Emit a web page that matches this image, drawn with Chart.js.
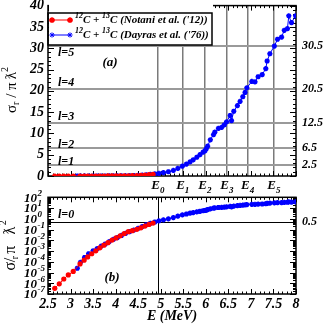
<!DOCTYPE html>
<html>
<head>
<meta charset="utf-8">
<script src="https://cdn.jsdelivr.net/npm/chart.js@4.4.0/dist/chart.umd.min.js"></script>
<style>
    body { margin: 0; background: #fff; width: 323px; height: 325px; overflow: hidden; position: relative; }
    canvas { position: absolute; left: 0; }
    #topChart { top: 0; }
    #botChart { top: 185px; }
</style>
</head>
<body>
<canvas id="topChart" width="323" height="200" style="width:323px;height:200px"></canvas>
<canvas id="botChart" width="323" height="140" style="width:323px;height:140px"></canvas>
<script>
const FONT = "'Liberation Serif', 'Times New Roman', serif";

// 12C + 13C, Notani et al. ('12)  -- energy (MeV) and sigma_r / pi lambda^2
const notaniE = [2.65, 2.75, 2.85, 2.95, 3.06, 3.21, 3.30, 3.38, 3.47, 3.56, 3.65, 3.74,
                 3.83, 3.92, 4.01, 4.10, 4.19, 4.28, 4.37, 4.47, 4.56, 4.65, 4.74, 4.83];
const notaniSigma = [3.4e-7, 8.9e-7, 2.5e-6, 5.9e-6, 1.26e-5, 6.3e-5, 1.4e-4, 2.8e-4, 5.6e-4, 1.05e-3, 2.0e-3, 3.5e-3,
                     6.0e-3, 0.0105, 0.0166, 0.026, 0.042, 0.063, 0.079, 0.105, 0.145, 0.21, 0.30, 0.40];

// 12C + 13C, Dayras et al. ('76)
const dayrasE = [3.15, 3.22, 3.31, 3.40, 3.50, 3.59, 3.68, 3.77, 3.86, 3.95, 4.04, 4.13,
                 4.22, 4.31, 4.40, 4.50, 4.59, 4.68, 4.77, 4.87, 4.96, 5.06, 5.17, 5.28,
                 5.38, 5.48, 5.57, 5.65, 5.72, 5.80, 5.87, 5.94, 5.98, 6.01, 6.04, 6.10,
                 6.17, 6.20, 6.28, 6.35, 6.41, 6.46, 6.54, 6.57, 6.62, 6.70, 6.76, 6.82,
                 6.87, 6.91, 7.02, 7.09, 7.16, 7.25, 7.33, 7.36, 7.42, 7.52, 7.59, 7.68,
                 7.74, 7.81, 7.84, 7.90, 7.99];
const dayrasSigma = [2.5e-5, 8.9e-5, 2.5e-4, 5.6e-4, 1.05e-3, 1.66e-3, 2.8e-3, 4.5e-3, 7.6e-3, 0.012, 0.0178, 0.028,
                     0.044, 0.063, 0.087, 0.13, 0.19, 0.28, 0.38, 0.50, 0.63, 0.80, 1.0, 1.3,
                     1.8, 2.3, 2.8, 3.3, 3.8, 4.4, 5.0, 5.6, 5.9, 6.4, 7.0, 8.5,
                     9.7, 10.3, 11.2, 11.4, 12.0, 12.7, 14.2, 13.0, 15.2, 16.5, 17.5, 18.6,
                     19.6, 20.7, 22.2, 22.1, 23.3, 23.8, 25.2, 27.0, 28.7, 30.5, 32.1, 32.6,
                     34.2, 34.6, 37.6, 36.0, 37.6];

// barrier energies E0..E5 and the l-wave limits
const levelE = [4.94, 5.49, 5.98, 6.47, 6.93, 7.51];
const levelIdx = ['0', '1', '2', '3', '4', '5'];
const lLines = [2.5, 6.5, 12.5, 20.5, 30.5];
const lNames = ['l=1', 'l=2', 'l=3', 'l=4', 'l=5'];
const lNamePos = [3.3, 7.4, 13.8, 21.9, 29.0];
const l0Line = 0.5;
const decades = [-7, -6, -5, -4, -3, -2, -1, 0, 1, 2];

const pts = (xs, ys) => xs.map((x, i) => ({x: x, y: ys[i]}));

function makeSets() {
    return [
        {
            label: "Notani", data: pts(notaniE, notaniSigma), showLine: true,
            borderColor: '#ff0000', backgroundColor: '#ff0000', borderWidth: 1,
            pointStyle: 'circle', pointRadius: 2.6, pointBorderWidth: 0
        },
        {
            label: "Dayras", data: pts(dayrasE, dayrasSigma), showLine: true,
            borderColor: '#0000ff', backgroundColor: '#0000ff', borderWidth: 1,
            pointStyle: 'star', pointRadius: 2.6, pointBorderWidth: 1.6
        }
    ];
}

function fixWidth(w) {
    return function(s) { s.width = w; s.paddingTop = 0; s.paddingBottom = 0; };
}
function fixHeight(h) {
    return function(s) { s.height = h; s.paddingLeft = 0; s.paddingRight = 0; };
}

function font(size) { return 'italic bold ' + size + 'px ' + FONT; }

// inward ticks on all four sides + the frame
function frame(chart, xTicks, yTicks) {
    const ctx = chart.ctx, a = chart.chartArea;
    const x = chart.scales.x, y = chart.scales.y;
    ctx.save();
    ctx.strokeStyle = '#000';
    ctx.lineWidth = 1;
    ctx.beginPath();
    xTicks.forEach(t => {
        const px = Math.round(x.getPixelForValue(t.v)) + 0.5;
        ctx.moveTo(px, a.bottom); ctx.lineTo(px, a.bottom - t.len);
        ctx.moveTo(px, a.top); ctx.lineTo(px, a.top + t.len);
    });
    yTicks.forEach(t => {
        const py = Math.round(y.getPixelForValue(t.v)) + 0.5;
        ctx.moveTo(a.left, py); ctx.lineTo(a.left + t.len, py);
        ctx.moveTo(a.right, py); ctx.lineTo(a.right - t.len, py);
    });
    ctx.stroke();
    ctx.lineWidth = 1.5;
    ctx.strokeRect(a.left, a.top, a.width, a.height);
    ctx.restore();
}

function yTitle(ctx, cx, cy, size) {
    ctx.save();
    ctx.translate(cx, cy);
    ctx.rotate(-Math.PI / 2);
    const big = size + 'px ' + FONT, small = Math.round(size * 0.65) + 'px ' + FONT;
    const parts = [['σ', big, 0], ['r', small, 0.3 * size], [' / π\u2009', big, 0], ['ƛ', big, 0], ['2', small, -0.45 * size]];
    let w = 0;
    parts.forEach(p => { ctx.font = p[1]; w += ctx.measureText(p[0]).width; });
    let x = -w / 2;
    ctx.textBaseline = 'middle';
    ctx.fillStyle = '#000';
    parts.forEach(p => { ctx.font = p[1]; ctx.fillText(p[0], x, p[2]); x += ctx.measureText(p[0]).width; });
    ctx.restore();
}

// text with superscript pieces: [[text, isSup], ...]
function richText(ctx, x, y, parts, size) {
    ctx.textBaseline = 'middle';
    ctx.textAlign = 'left';
    parts.forEach(p => {
        ctx.font = font(p[1] ? Math.round(size * 0.7) : size);
        ctx.fillText(p[0], x, p[1] ? y - size * 0.4 : y);
        x += ctx.measureText(p[0]).width;
    });
}

const xMinor = [];
for (let i = 25; i <= 80; i++) xMinor.push({v: i / 10, len: i % 5 === 0 ? 5 : 2.5});
const yMinorLin = [];
for (let i = 0; i <= 40; i++) yMinorLin.push({v: i, len: i % 5 === 0 ? 6 : 3});
const yMinorLog = [];
decades.forEach(n => {
    for (let k = 1; k <= 9; k++) {
        if (n === 2 && k > 1) break;
        yMinorLog.push({v: k * Math.pow(10, n), len: k === 1 ? 6 : 3});
    }
});

const topDeco = {
    id: 'topDeco',
    beforeDatasetsDraw(chart) {
        frame(chart, xMinor, yMinorLin);
    },
    afterDraw(chart) {
        const ctx = chart.ctx, x = chart.scales.x, y = chart.scales.y, a = chart.chartArea;
        ctx.save();
        ctx.fillStyle = '#000';
        // E labels under the panel
        levelE.forEach((e, i) => {
            const px = x.getPixelForValue(e);
            ctx.font = font(13);
            ctx.textAlign = 'right';
            ctx.textBaseline = 'middle';
            ctx.fillText('E', px + 2, 186);
            ctx.font = font(9);
            ctx.textAlign = 'left';
            ctx.fillText(levelIdx[i], px + 2, 191);
        });
        // l labels
        ctx.font = font(12);
        ctx.textAlign = 'left';
        ctx.textBaseline = 'middle';
        lNames.forEach((t, i) => ctx.fillText(t, a.left + 10, y.getPixelForValue(lNamePos[i])));
        ctx.font = font(13);
        ctx.textAlign = 'center';
        ctx.fillText('(a)', 110, y.getPixelForValue(26.5));
        // legend box
        const bx = a.left, br = 212, bt = 13, bb = 45;
        ctx.fillStyle = '#fff';
        ctx.fillRect(bx + 1, 0, br - bx, bb);
        ctx.strokeStyle = '#000';
        ctx.lineWidth = 1.5;
        ctx.strokeRect(bx, bt, br - bx, bb - bt);
        const rows = [
            {c: '#ff0000', y: 20, style: 'circle', r: 2.6, name: 'Notani et al. (\'12))'},
            {c: '#0000ff', y: 35, style: 'star', r: 2.6, name: 'Dayras et al. (\'76))'}
        ];
        rows.forEach(r => {
            ctx.strokeStyle = r.c;
            ctx.fillStyle = r.c;
            ctx.lineWidth = 1;
            ctx.beginPath();
            ctx.moveTo(52, r.y); ctx.lineTo(70, r.y);
            ctx.stroke();
            [52, 70].forEach(px => {
                Chart.helpers.drawPoint(ctx, {pointStyle: r.style, radius: r.r, borderWidth: r.style === 'star' ? 1.6 : 0}, px, r.y);
                if (r.style === 'circle') { ctx.beginPath(); ctx.arc(px, r.y, r.r, 0, 2 * Math.PI); ctx.fill(); }
            });
            ctx.fillStyle = '#000';
            richText(ctx, 75, r.y, [['12', true], ['C + ', false], ['13', true], ['C (' + r.name, false]], 11);
        });
        yTitle(ctx, 12, 90, 15);
        ctx.restore();
    }
};

const botDeco = {
    id: 'botDeco',
    beforeDatasetsDraw(chart) {
        frame(chart, xMinor, yMinorLog);
    },
    afterDraw(chart) {
        const ctx = chart.ctx, y = chart.scales.y, a = chart.chartArea;
        ctx.save();
        ctx.fillStyle = '#000';
        ctx.textBaseline = 'middle';
        decades.forEach(n => {
            const py = y.getPixelForValue(Math.pow(10, n));
            ctx.font = font(13);
            ctx.textAlign = 'right';
            ctx.fillText('10', 37, py + 1);
            ctx.font = font(9);
            ctx.textAlign = 'left';
            ctx.fillText(String(n), 37.5, py - 4);
        });
        ctx.font = font(12);
        ctx.textAlign = 'left';
        ctx.fillText('l=0', a.left + 10, y.getPixelForValue(2.2));
        ctx.font = font(13);
        ctx.textAlign = 'center';
        ctx.fillText('(b)', 112, y.getPixelForValue(3e-6));
        yTitle(ctx, 11, 57, 16);
        ctx.restore();
    }
};

const common = {
    responsive: false,
    animation: false,
    events: [],
    plugins: { legend: { display: false }, tooltip: { enabled: false } }
};

new Chart(document.getElementById('topChart'), {
    type: 'scatter',
    data: { datasets: makeSets() },
    options: Object.assign({}, common, {
        layout: { padding: { top: 5.5, left: 0, right: 0, bottom: 0 } },
        scales: {
            x: {
                type: 'linear', position: 'bottom', min: 2.5, max: 8,
                afterBuildTicks: s => { s.ticks = levelE.map(v => ({value: v})); },
                afterFit: fixHeight(24),
                ticks: { display: false },
                grid: { color: '#7a7a7a', lineWidth: 1.5, drawTicks: false },
                border: { display: false }
            },
            y: {
                type: 'linear', position: 'left', min: 0, max: 40,
                afterFit: fixWidth(48),
                ticks: { stepSize: 5, color: '#000', padding: 4, font: { family: FONT, size: 14, style: 'italic', weight: 'bold' } },
                grid: { display: false, drawTicks: false },
                border: { display: false }
            },
            y2: {
                type: 'linear', position: 'right', min: 0, max: 40,
                afterBuildTicks: s => { s.ticks = lLines.map(v => ({value: v})); },
                afterFit: fixWidth(27),
                ticks: { color: '#000', padding: 6, callback: v => String(v), font: { family: FONT, size: 12, style: 'italic', weight: 'bold' } },
                grid: { color: '#9a9a9a', lineWidth: 2, drawTicks: false },
                border: { display: false }
            }
        }
    }),
    plugins: [topDeco]
});

new Chart(document.getElementById('botChart'), {
    type: 'scatter',
    data: { datasets: makeSets() },
    options: Object.assign({}, common, {
        layout: { padding: { top: 12.3, left: 0, right: 0, bottom: 0 } },
        scales: {
            x: {
                type: 'linear', position: 'bottom', min: 2.5, max: 8,
                afterFit: fixHeight(31),
                ticks: { stepSize: 0.5, autoSkip: false, maxRotation: 0, padding: 2, color: '#000', callback: v => String(v),
                         font: { family: FONT, size: 14, style: 'italic', weight: 'bold' } },
                grid: { display: false, drawTicks: false },
                border: { display: false },
                title: { display: true, text: 'E (MeV)', color: '#000', padding: 0,
                         font: { family: FONT, size: 14, style: 'italic', weight: 'bold' } }
            },
            x2: {
                type: 'linear', position: 'top', min: 2.5, max: 8,
                afterBuildTicks: s => { s.ticks = [{value: levelE[0]}]; },
                afterFit: fixHeight(0),
                ticks: { display: false },
                grid: { color: '#000', lineWidth: 1, drawTicks: false },
                border: { display: false }
            },
            y: {
                type: 'logarithmic', position: 'left', min: 1e-7, max: 1e2,
                afterFit: fixWidth(48),
                ticks: { display: false },
                grid: { display: false, drawTicks: false },
                border: { display: false }
            },
            y2: {
                type: 'logarithmic', position: 'right', min: 1e-7, max: 1e2,
                afterBuildTicks: s => { s.ticks = [{value: l0Line}]; },
                afterFit: fixWidth(27),
                ticks: { color: '#000', padding: 6, callback: v => String(v), font: { family: FONT, size: 12, style: 'italic', weight: 'bold' } },
                grid: { color: '#000', lineWidth: 1, drawTicks: false },
                border: { display: false }
            }
        }
    }),
    plugins: [botDeco]
});
</script>
</body>
</html>
